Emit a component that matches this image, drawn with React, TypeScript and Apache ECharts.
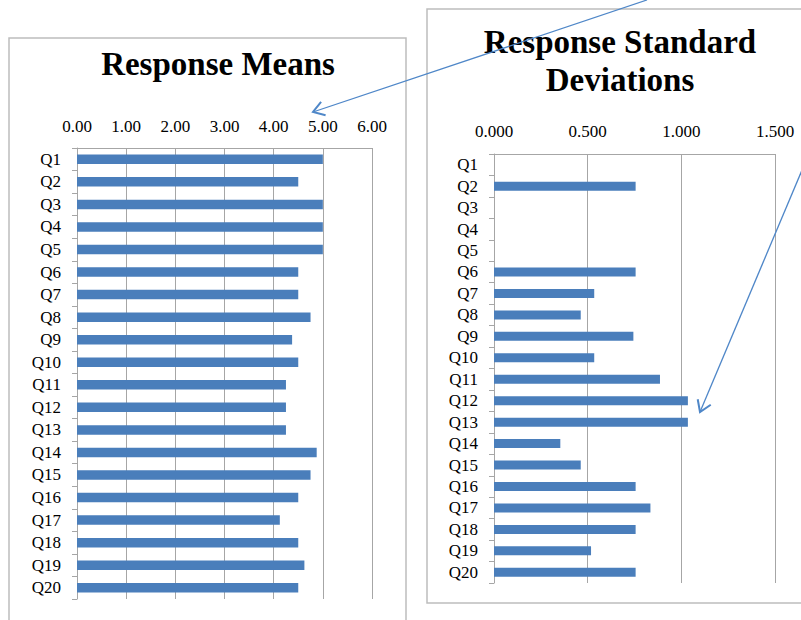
import React, { useEffect, useRef } from "react";
import * as echarts from "echarts";

const categories = ["Q1","Q2","Q3","Q4","Q5","Q6","Q7","Q8","Q9","Q10","Q11","Q12","Q13","Q14","Q15","Q16","Q17","Q18","Q19","Q20"];
const meanValues = [5, 4.5, 5, 5, 5, 4.5, 4.5, 4.75, 4.375, 4.5, 4.25, 4.25, 4.25, 4.875, 4.75, 4.5, 4.125, 4.5, 4.625, 4.5];
const sdValues = [0, 0.756, 0, 0, 0, 0.756, 0.535, 0.463, 0.744, 0.535, 0.886, 1.035, 1.035, 0.354, 0.463, 0.756, 0.835, 0.756, 0.518, 0.756];
const meanTitle = "Response Means";
const sdTitle = "Response Standard\nDeviations";

const SERIF = "'Liberation Serif', 'Times New Roman', serif";
const BAR = "#4A7EBB";
const GRID = "#a6a6a6";
const ARROW = "#4F87C8";

function arrow(x1: number, y1: number, x2: number, y2: number, len: number, ang: number) {
  const dx = x1 - x2, dy = y1 - y2;
  const n = Math.hypot(dx, dy);
  const ux = dx / n, uy = dy / n;
  const a = (ang * Math.PI) / 180;
  const w1 = [x2 + len * (ux * Math.cos(a) - uy * Math.sin(a)), y2 + len * (ux * Math.sin(a) + uy * Math.cos(a))];
  const w2 = [x2 + len * (ux * Math.cos(-a) - uy * Math.sin(-a)), y2 + len * (ux * Math.sin(-a) + uy * Math.cos(-a))];
  return [
    { type: "line", shape: { x1, y1, x2, y2 }, style: { stroke: ARROW, lineWidth: 1.3 }, z: 100 },
    { type: "polyline", shape: { points: [w1, [x2, y2], w2] }, style: { stroke: ARROW, lineWidth: 2, fill: null }, z: 100 },
  ];
}

export default function App() {
  const ref = useRef<HTMLDivElement>(null);
  useEffect(() => {
    document.body.style.margin = "0";
    const chart = echarts.init(ref.current!, null, { renderer: "svg" });
    const catAxis = (gridIndex: number, margin: number) => ({
      type: "category",
      gridIndex,
      data: categories,
      inverse: true,
      axisLine: { show: true, lineStyle: { color: GRID, width: 1 } },
      axisTick: { show: true, length: 5, interval: 0, lineStyle: { color: GRID } },
      axisLabel: { color: "#000", fontFamily: SERIF, fontSize: 17, margin, interval: 0 },
      splitLine: { show: false },
    });
    const valAxis = (gridIndex: number, max: number, interval: number, digits: number, margin: number) => ({
      type: "value",
      gridIndex,
      position: "top",
      min: 0,
      max,
      interval,
      axisLine: { show: true, lineStyle: { color: GRID, width: 1 } },
      axisTick: { show: false },
      axisLabel: {
        color: "#000",
        fontFamily: SERIF,
        fontSize: 17,
        margin,
        formatter: (v: number) => v.toFixed(digits),
      },
      splitLine: { show: true, lineStyle: { color: GRID, width: 1 } },
    });
    chart.setOption({
      animation: false,
      backgroundColor: "#fff",
      grid: [
        { left: 77, top: 148, width: 295, height: 451 },
        { left: 494, top: 154, width: 281, height: 429 },
      ],
      xAxis: [valAxis(0, 6, 1, 2, 13), valAxis(1, 1.5, 0.5, 3, 14)],
      yAxis: [catAxis(0, 16), catAxis(1, 16)],
      series: [
        { type: "bar", name: "Mean", xAxisIndex: 0, yAxisIndex: 0, data: meanValues, barWidth: 9.5, itemStyle: { color: BAR } },
        { type: "bar", name: "Std Dev", xAxisIndex: 1, yAxisIndex: 1, data: sdValues, barWidth: 9, itemStyle: { color: BAR } },
      ],
      graphic: [
        { type: "rect", shape: { x: 9, y: 38, width: 397, height: 600 }, style: { fill: null, stroke: "#bdbdbd", lineWidth: 1.5 }, z: -1 },
        { type: "rect", shape: { x: 427, y: 9, width: 400, height: 594 }, style: { fill: null, stroke: "#bdbdbd", lineWidth: 1.5 }, z: -1 },
        {
          type: "text",
          x: 218,
          y: 45,
          style: { text: meanTitle, font: `bold 33px ${SERIF}`, fill: "#000", textAlign: "center", textVerticalAlign: "top", lineHeight: 38 },
        },
        {
          type: "text",
          x: 620,
          y: 23,
          style: { text: sdTitle, font: `bold 33px ${SERIF}`, fill: "#000", textAlign: "center", textVerticalAlign: "top", lineHeight: 38 },
        },
        ...arrow(647, 0, 313, 112, 13, 33),
        ...arrow(805, 163, 700, 412, 13, 33),
      ],
    });
    return () => chart.dispose();
  }, []);
  return <div ref={ref} style={{ width: 801, height: 620 }} />;
}
